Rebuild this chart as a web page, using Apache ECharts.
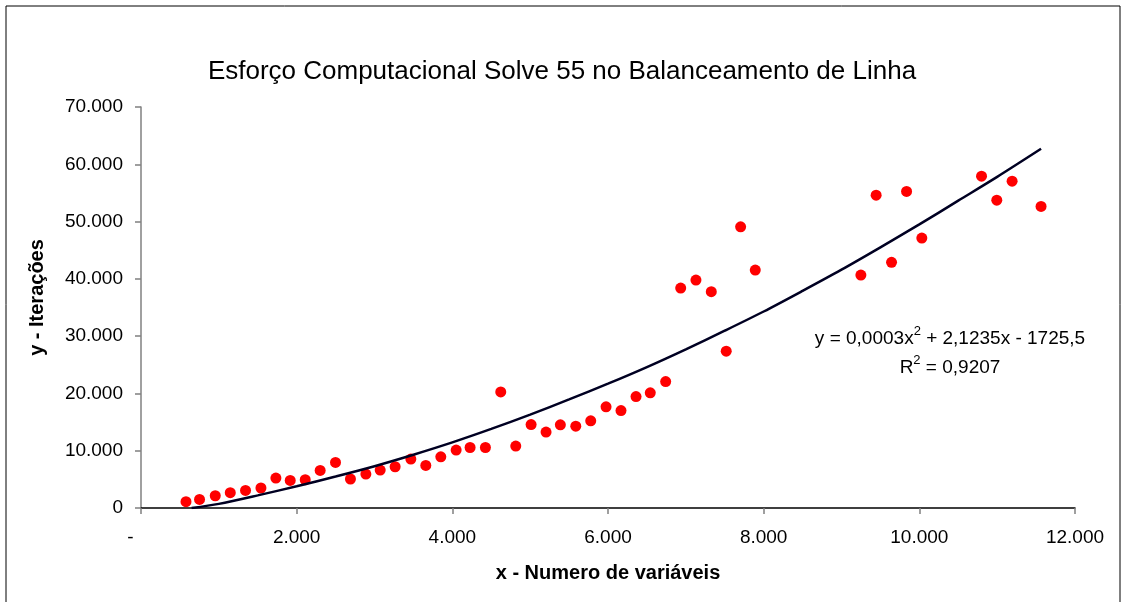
<!DOCTYPE html>
<html>
<head>
<meta charset="utf-8">
<script src="https://cdn.jsdelivr.net/npm/echarts@6/dist/echarts.min.js"></script>
<style>
html,body{margin:0;padding:0;background:#fff;}
#chart{width:1124px;height:602px;}
</style>
</head>
<body>
<div id="chart"></div>
<script>
// Scatter data: x = número de variáveis, y = iterações
const xVals = [578, 752, 954, 1147, 1343, 1541, 1733, 1917, 2110, 2302, 2499, 2691, 2889, 3073, 3265,
  3467, 3659, 3852, 4049, 4228, 4425, 4622, 4815, 5012, 5204, 5388, 5586, 5778, 5975, 6167, 6360,
  6543, 6741, 6934, 7130, 7327, 7519, 7704, 7892, 9249, 9445, 9643, 9836, 10032, 10799, 10995, 11192, 11564];
const yVals = [1100, 1500, 2140, 2670, 3070, 3490, 5230, 4810, 4930, 6550, 7950, 5060, 5930, 6620, 7200,
  8540, 7430, 8940, 10110, 10560, 10560, 20270, 10810, 14570, 13250, 14520, 14290, 15220, 17660, 17010, 19450,
  20100, 22070, 38400, 39790, 37760, 27370, 49090, 41540, 40670, 54610, 42880, 55260, 47120, 57920, 53740, 57050, 52640];

// Trend line (polynomial trendline as drawn in the picture)
const trendX = [650, 1000, 1500, 2000, 2500, 3000, 3500, 4000, 4500, 5000, 5500, 6000, 6500, 7000, 7500,
  8000, 8500, 9000, 9500, 10000, 10500, 11000, 11564];
const trendY = [0, 720, 2200, 3800, 5500, 7300, 9300, 11450, 13800, 16300, 18950, 21700, 24600, 27700, 30950,
  34300, 37900, 41600, 45500, 49500, 53650, 57800, 62700];

const titleText = 'Esforço Computacional Solve 55 no Balanceamento de Linha';
const xName = 'x - Numero de variáveis';
const yName = 'y - Iterações';
const eqLine1 = ['y = 0,0003x', '2', ' + 2,1235x - 1725,5'];
const eqLine2 = ['R', '2', ' = 0,9207'];

const xTicks = { min: 0, max: 12000, interval: 2000 };
const yTicks = { min: 0, max: 70000, interval: 10000 };

function fmtThousands(v) {
  return (v / 1000).toFixed(3);
}

const scatterData = xVals.map((x, i) => [x, yVals[i]]);
const trendData = trendX.map((x, i) => [x, trendY[i]]);

const FONT = '"Liberation Sans", Arial, sans-serif';

const chart = echarts.init(document.getElementById('chart'), null, { renderer: 'canvas' });
chart.setOption({
  backgroundColor: '#ffffff',
  animation: false,
  title: {
    text: titleText,
    left: 'center',
    top: 54,
    textStyle: { fontFamily: FONT, fontSize: 26, fontWeight: 'normal', color: '#000' }
  },
  grid: { left: 141, right: 49, top: 107, bottom: 94, containLabel: false },
  xAxis: {
    type: 'value',
    min: xTicks.min, max: xTicks.max, interval: xTicks.interval,
    name: xName,
    nameLocation: 'middle',
    nameGap: 55,
    nameTextStyle: { fontFamily: FONT, fontSize: 20, fontWeight: 'bold', color: '#000' },
    axisLine: { show: true, onZero: false, lineStyle: { color: '#000', width: 1.5 } },
    axisTick: { show: true, length: 6, lineStyle: { color: '#808080', width: 1.5 } },
    axisLabel: {
      fontFamily: FONT, fontSize: 19, color: '#000', margin: 20,
      formatter: function (v) { return v === 0 ? '-    ' : fmtThousands(v); }
    },
    splitLine: { show: false }
  },
  yAxis: {
    type: 'value',
    min: yTicks.min, max: yTicks.max, interval: yTicks.interval,
    name: yName,
    nameLocation: 'middle',
    nameGap: 94,
    nameTextStyle: { fontFamily: FONT, fontSize: 20, fontWeight: 'bold', color: '#000', padding: [0, 0, 0, 20] },
    axisLine: { show: true, lineStyle: { color: '#808080', width: 1.5 } },
    axisTick: { show: true, length: 6, lineStyle: { color: '#808080', width: 1.5 } },
    axisLabel: {
      fontFamily: FONT, fontSize: 19, color: '#000', margin: 18,
      formatter: function (v) { return v === 0 ? '0' : fmtThousands(v); }
    },
    splitLine: { show: false }
  },
  series: [
    {
      type: 'scatter',
      data: scatterData,
      symbol: 'circle',
      symbolSize: 11,
      itemStyle: { color: '#ff0000', opacity: 1 },
      z: 2
    },
    {
      type: 'line',
      data: trendData,
      smooth: 0.3,
      showSymbol: false,
      symbol: 'none',
      clip: true,
      lineStyle: { color: '#000022', width: 2.5 },
      z: 3
    }
  ],
  graphic: [
    {
      type: 'rect',
      shape: { x: 6, y: 6, width: 1114, height: 620 },
      style: { fill: 'none', stroke: '#000', lineWidth: 1 },
      silent: true
    },
    {
      type: 'text',
      x: 950, y: 324,
      style: {
        text: '{a|' + eqLine1[0] + '}{s|' + eqLine1[1] + '}{a|' + eqLine1[2] + '}\n' +
              '{a|' + eqLine2[0] + '}{s|' + eqLine2[1] + '}{a|' + eqLine2[2] + '}',
        align: 'center',
        verticalAlign: 'top',
        fill: '#000',
        rich: {
          a: { fontFamily: FONT, fontSize: 19, lineHeight: 29, fill: '#000' },
          s: { fontFamily: FONT, fontSize: 13, lineHeight: 29, fill: '#000', padding: [0, 0, 14, 0] }
        }
      }
    }
  ]
});
</script>
</body>
</html>
